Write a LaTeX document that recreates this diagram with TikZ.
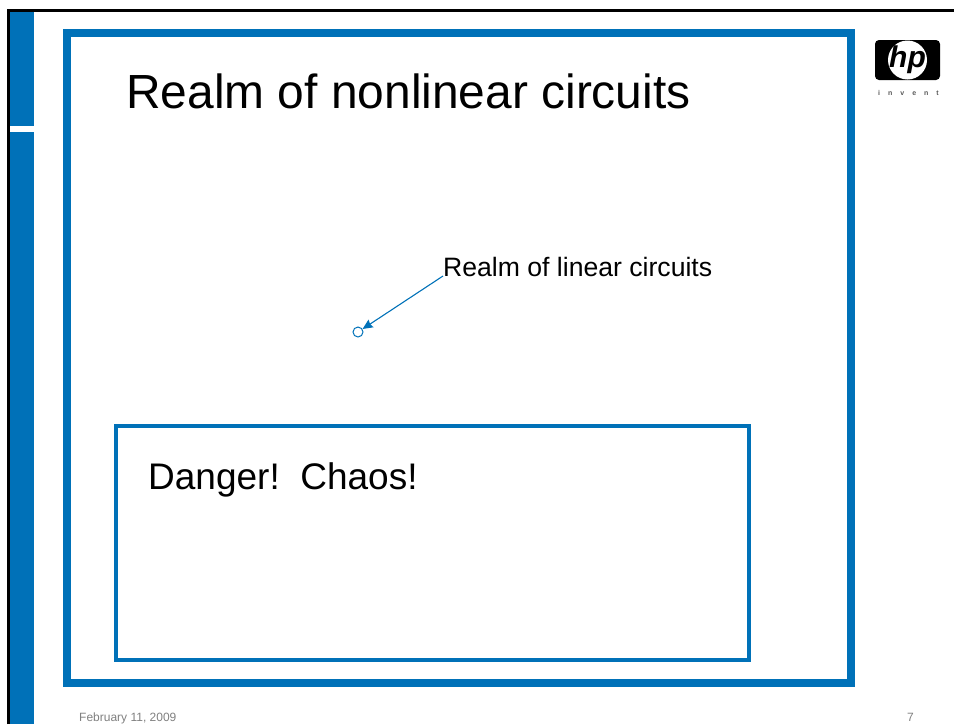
\documentclass[tikz,border=0pt]{standalone}
\usepackage{fontspec}
\setmainfont{Liberation Sans}
\usepackage{xcolor}
\usetikzlibrary{positioning,arrows.meta,calc}
\definecolor{cBlue}{HTML}{0071B8}
\definecolor{cGrey}{HTML}{808080}

\begin{document}
\begin{tikzpicture}[
  x=1pt,y=-1pt,
  txt/.style={inner sep=0pt,anchor=base west},
  bar/.style={fill=cBlue,inner sep=0pt,outer sep=0pt,anchor=north west},
  frm/.style={draw=cBlue,inner sep=0pt,outer sep=0pt,anchor=north west},
  ar/.style={-{Stealth[length=10pt,width=9pt,inset=1pt]},cBlue,line width=1.1pt}
]
\useasboundingbox (0,0) rectangle (954,724);
% --- slide edge and side bar ---
\node[bar,minimum width=24pt,minimum height=114pt] (barTop) at (10,12) {};
\node[bar,minimum width=24pt,minimum height=592pt] (barLow) at (10,132) {};
\coordinate (edgeA) at (8.5,724);
\coordinate (edgeB) at (8.5,10.5);
\coordinate (edgeC) at (954,10.5);
\draw[line width=3pt] (edgeA) -- (edgeB) -- (edgeC);
% --- frames ---
\node[frm,line width=8pt,minimum width=784pt,minimum height=650pt] (outer) at (67,33) {};
\node[frm,line width=4pt,minimum width=633.5pt,minimum height=233.5pt] (inner) at (115.5,426) {};
% --- texts ---
\node[txt,font=\fontsize{47.9}{48}\selectfont] (title) at (126,108) {Realm of nonlinear circuits};
\node[txt,font=\fontsize{26.6}{27}\selectfont] (lin) at (443,276) {Realm of linear circuits};
\node[txt,font=\fontsize{37}{37}\selectfont] (chaos) at (148,489) {Danger!\ \ Chaos!};
\node[txt,font=\fontsize{12}{12}\selectfont,text=cGrey] (date) at (79,721) {February 11, 2009};
\node[txt,font=\fontsize{12}{12}\selectfont,text=cGrey] (page) at (907,721) {7};
% --- small circle and its pointer ---
\node[draw=cBlue,circle,minimum size=10pt,inner sep=0pt,line width=1pt] (dot) at (358,332) {};
\draw[ar] (lin.base west) -- (dot);
% --- logo ---
\node[fill=black,rounded corners=4pt,inner sep=0pt,minimum width=65pt,minimum height=40pt] (logo) at (907.5,60) {};
\node[fill=white,circle,inner sep=0pt,minimum size=39pt] (logoDisc) at (logo) {};
\node[font=\fontsize{30}{30}\selectfont\itshape\bfseries] (logoHp) at (logo) {hp};
\node[txt,font=\fontsize{7}{7}\selectfont\bfseries,text=black!65] (logoSub) at (878,95) {i\hspace{8pt}n\hspace{8pt}v\hspace{8pt}e\hspace{8pt}n\hspace{8pt}t};
\end{tikzpicture}
\end{document}
